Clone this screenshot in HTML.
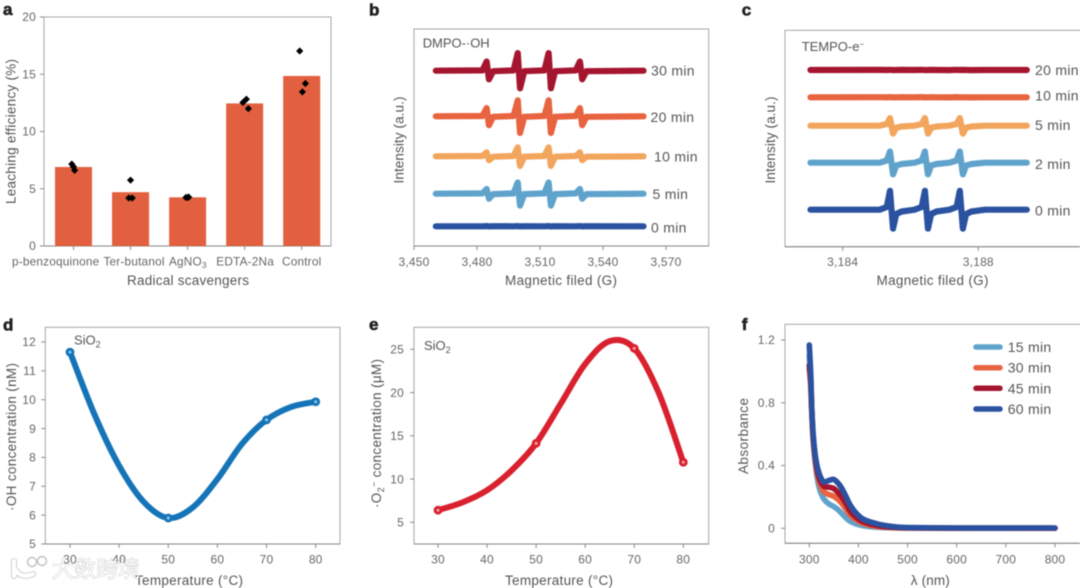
<!DOCTYPE html>
<html lang="en">
<head>
<meta charset="utf-8">
<title>Radical scavenging and EPR figure</title>
<style>
html,body{margin:0;padding:0;background:#fff;width:1080px;height:588px;overflow:hidden}
svg{display:block;filter:blur(0.45px)}
text{font-family:"Liberation Sans","Noto Sans CJK SC",sans-serif}
.tick{font-size:12px;fill:#666;letter-spacing:.2px}
.cat{font-size:11.8px;fill:#666;letter-spacing:.2px}
.title{font-size:13.5px;fill:#555}
.series{font-size:14px;fill:#555;letter-spacing:.3px}
.note{font-size:13px;fill:#555}
.letter{font-size:17px;font-weight:bold;fill:#222;stroke:#222;stroke-width:.6px}
.frame{fill:none;stroke:#a6a6a6;stroke-width:1}
.base{stroke:#858585;stroke-width:1}
.wm{font-family:"Liberation Sans","Noto Sans CJK SC",sans-serif;font-size:22px;fill:#fff;stroke:#b5b5b5;stroke-width:.7px;paint-order:stroke}
</style>
</head>
<body>
<svg id="figure" xmlns="http://www.w3.org/2000/svg" width="1080" height="588" viewBox="0 0 1080 588">
  <text class="letter" x="3" y="15">a</text>
  <text class="letter" x="369" y="15.7">b</text>
  <text class="letter" x="741.7" y="15.7">c</text>
  <text class="letter" x="3" y="330.7">d</text>
  <text class="letter" x="369" y="330">e</text>
  <text class="letter" x="741.7" y="330">f</text>

  <!-- frames -->
  <rect class="frame" x="44" y="17" width="287" height="229"/>
  <rect class="frame" x="414" y="29" width="294.7" height="217"/>
  <rect class="frame" x="785" y="30.3" width="300" height="216.4"/>
  <rect class="frame" x="45.3" y="327.3" width="294.7" height="216.7"/>
  <rect class="frame" x="414" y="327.3" width="294.7" height="216.7"/>
  <rect class="frame" x="785" y="324.3" width="300" height="219"/>
  <line class="base" x1="44" x2="331" y1="246" y2="246"/>
  <line class="base" x1="414" x2="708.7" y1="246" y2="246"/>
  <line class="base" x1="785" x2="1080" y1="246.7" y2="246.7"/>
  <line class="base" x1="45.3" x2="340" y1="544" y2="544"/>
  <line class="base" x1="414" x2="708.7" y1="544" y2="544"/>
  <line class="base" x1="785" x2="1080" y1="543.3" y2="543.3"/>

  <!-- axis titles -->
  <text class="title" x="188" y="285" text-anchor="middle" textLength="122">Radical scavengers</text>
  <text class="title" transform="rotate(-90 15.5 131.5)" x="15.5" y="131.5" text-anchor="middle" textLength="145">Leaching efficiency (%)</text>
  <text class="title" x="561" y="285" text-anchor="middle" textLength="112">Magnetic filed (G)</text>
  <text class="title" transform="rotate(-90 403.5 140)" x="403.5" y="140" text-anchor="middle" textLength="87">Intensity (a.u.)</text>
  <text class="title" x="932.5" y="285" text-anchor="middle" textLength="112">Magnetic filed (G)</text>
  <text class="title" transform="rotate(-90 775.2 140)" x="775.2" y="140" text-anchor="middle" textLength="87">Intensity (a.u.)</text>
  <text class="title" x="189" y="585" text-anchor="middle" textLength="108">Temperature (°C)</text>
  <text class="title" transform="rotate(-90 16 437)" x="16" y="437" text-anchor="middle" textLength="148">·OH concentration (nM)</text>
  <text class="title" x="559" y="585" text-anchor="middle" textLength="108">Temperature (°C)</text>
  <text class="title" transform="rotate(-90 381 433.5)" x="381" y="433.5" text-anchor="middle" textLength="149">·O<tspan dy="3" font-size="9">2</tspan><tspan dy="-7" font-size="9">−</tspan><tspan dy="4"> concentration (μM)</tspan></text>
  <text class="title" x="930.3" y="585" text-anchor="middle" textLength="39">λ (nm)</text>
  <text class="title" transform="rotate(-90 747.8 436)" x="747.8" y="436" text-anchor="middle" textLength="76">Absorbance</text>

  <!-- annotations -->
  <text class="note" x="422.7" y="47.7" textLength="67">DMPO-·OH</text>
  <text class="note" x="801.7" y="51">TEMPO-e<tspan dy="-4" font-size="8">−</tspan></text>
  <text class="note" x="74" y="344.7">SiO<tspan dy="3" font-size="9">2</tspan></text>
  <text class="note" x="424" y="350">SiO<tspan dy="3" font-size="9">2</tspan></text>

  <!-- series labels -->
  <text class="series" x="651" y="75.7">30 min</text>
  <text class="series" x="650.5" y="122">20 min</text>
  <text class="series" x="654" y="161.5">10 min</text>
  <text class="series" x="652.5" y="199">5 min</text>
  <text class="series" x="651" y="232.5">0 min</text>
  <text class="series" x="1035" y="75">20 min</text>
  <text class="series" x="1035" y="100.5">10 min</text>
  <text class="series" x="1035" y="130">5 min</text>
  <text class="series" x="1035" y="169">2 min</text>
  <text class="series" x="1035" y="215.5">0 min</text>

  <g id="marks"></g>

  <!-- legend panel f -->
  <g>
    <line x1="976" x2="1000" y1="347" y2="347" stroke="#5fa3cc" stroke-width="5.5" stroke-linecap="round"/>
    <text class="series" x="1007.7" y="352">15 min</text>
    <line x1="976" x2="1000" y1="367.7" y2="367.7" stroke="#e8633f" stroke-width="5.5" stroke-linecap="round"/>
    <text class="series" x="1007.7" y="372.7">30 min</text>
    <line x1="976" x2="1000" y1="388.3" y2="388.3" stroke="#a5152f" stroke-width="5.5" stroke-linecap="round"/>
    <text class="series" x="1007.7" y="393.3">45 min</text>
    <line x1="976" x2="1000" y1="409" y2="409" stroke="#2a52a0" stroke-width="5.5" stroke-linecap="round"/>
    <text class="series" x="1007.7" y="414">60 min</text>
  </g>

  <!-- watermark -->
  <g>
    <path d="M14 561V576M15 569C18 575 25 578 33 574" fill="none" stroke="#c4c4c4" stroke-width="6" stroke-linecap="round"/>
    <path d="M14 561V576M15 569C18 575 25 578 33 574" fill="none" stroke="#fff" stroke-width="4.4" stroke-linecap="round"/>
    <circle cx="32" cy="562" r="4.5" fill="#fff" stroke="#c0c0c0" stroke-width="1.4"/>
    <circle cx="42" cy="561" r="4.5" fill="#fff" stroke="#c0c0c0" stroke-width="1.4"/>
    <text class="wm" x="52" y="577">大数跨境</text>
  </g>
</svg>

<script>
// ---- panel a data ----
const barCategories = ["p-benzoquinone", "Ter-butanol", "AgNO3", "EDTA-2Na", "Control"];
const barValues = [6.9, 4.7, 4.25, 12.45, 14.85];
const barReplicates = [[7.15, 6.92, 6.6], [5.75, 4.19, 4.19], [4.24, 4.27, 4.24], [12.82, 12.53, 12.0], [17.03, 14.19, 13.46]];
const barJitter = [[-0.03, 0, 0.02], [0, -0.03, 0.03], [-0.03, 0.02, 0], [0.03, -0.03, 0.065], [-0.035, 0.065, 0.012]];
const barTicks = [0, 5, 10, 15, 20];

// ---- panel b data ----
const dmpoField = [3460.4, 3482.6, 3484.6, 3485.7, 3487.7, 3497.4, 3499.4, 3500.5, 3502.5, 3512.1, 3514.1, 3515.2, 3517.2, 3527, 3529, 3530.1, 3532.1, 3559.3];
const dmpo0 = [19.7, 19.7, 19.9, 19.6, 19.8, 19.7, 19.9, 19.6, 19.8, 19.7, 19.9, 19.6, 19.8, 19.7, 19.9, 19.6, 19.8, 19.7];
const dmpo5 = [52.3, 52.6, 57, 47.3, 51.9, 52.6, 63.5, 40.4, 51.9, 52.6, 63.5, 40.4, 51.9, 52.6, 57, 47.3, 51.9, 52.3];
const dmpo10 = [89.7, 90, 93.6, 85.8, 89.3, 90, 98.6, 80.1, 89.3, 90, 98.6, 80.1, 89.3, 90, 93.6, 85.8, 89.3, 89.7];
const dmpo20 = [129.7, 130, 137.9, 120.8, 129.2, 130, 145.6, 113.1, 129.2, 130, 145.6, 113.1, 129.2, 130, 137.9, 120.8, 129.2, 129.7];
const dmpo30 = [175.3, 175.6, 184.5, 166.7, 174.8, 175.6, 192.9, 157.7, 174.8, 175.6, 192.9, 157.7, 174.8, 175.6, 184.5, 166.7, 174.8, 175.3];
const dmpoTicks = [3450, 3480, 3510, 3540, 3570];
const dmpoTickLabels = ["3,450", "3,480", "3,510", "3,540", "3,570"];

// ---- panel c data ----
const tempoField = [3183.05, 3185.09, 3185.3, 3185.395, 3185.485, 3185.58, 3185.74, 3186.12, 3186.33, 3186.425, 3186.515, 3186.61, 3186.77, 3187.15, 3187.36, 3187.455, 3187.545, 3187.64, 3187.8, 3188.2, 3189.43];
const tempo0 = [36.3, 36.3, 39, 55.2, 17.4, 32, 34.5, 36.3, 39, 55.2, 17.4, 32, 34.5, 36.3, 39, 55.2, 17.4, 32, 34.5, 36.3, 36.3];
const tempo2 = [83.3, 83.3, 85.5, 94.5, 71.7, 80.5, 82, 83.3, 85.5, 94.5, 71.7, 80.5, 82, 83.3, 85.5, 94.5, 71.7, 80.5, 82, 83.3, 83.3];
const tempo5 = [120.3, 120.3, 122, 127.9, 112.4, 118.3, 119.5, 120.3, 122, 127.9, 112.4, 118.3, 119.5, 120.3, 122, 127.9, 112.4, 118.3, 119.5, 120.3, 120.3];
const tempo10 = [148.7, 148.8, 148.7, 148.9, 148.6, 148.7, 148.8, 148.7, 148.9, 148.6, 148.7, 148.8, 148.7, 148.6, 148.9, 148.7, 148.8, 148.7, 148.6, 148.7, 148.7];
const tempo20 = [176, 176.1, 176, 176.2, 175.9, 176, 176.1, 176, 176.2, 175.9, 176, 176.1, 176, 175.9, 176.2, 176, 176.1, 176, 175.9, 176, 176];
const tempoTicks = [3184, 3188];
const tempoTickLabels = ["3,184", "3,188"];

// ---- panel d data ----
const ohTemps = [30, 50, 70, 80];
const ohValues = [11.65, 5.9, 9.3, 9.93];
const ohCurveT = [30, 35, 40, 45, 50, 55, 60, 65, 70, 75, 80];
const ohCurveV = [11.65, 9.48, 7.71, 6.46, 5.9, 6.27, 7.25, 8.47, 9.3, 9.75, 9.93];
const ohXTicks = [30, 40, 50, 60, 70, 80];
const ohYTicks = [5, 6, 7, 8, 9, 10, 11, 12];

// ---- panel e data ----
const o2Temps = [30, 50, 70, 80];
const o2Values = [6.4, 14.13, 25.1, 11.94];
const o2CurveT = [30, 35, 40, 45, 50, 55, 60, 65, 70, 75, 80];
const o2CurveV = [6.4, 7.3, 8.7, 11.0, 14.13, 18.7, 23.3, 25.95, 25.1, 19.95, 11.94];
const o2XTicks = [30, 40, 50, 60, 70, 80];
const o2YTicks = [5, 10, 15, 20, 25];

// ---- panel f data ----
const wavelengths = [300, 303, 305, 308, 313, 320, 329, 340, 349, 358, 366, 375, 383, 395, 407, 420, 434, 450, 474, 500, 600, 800];
const abs15 = [1.1, 0.95, 0.75, 0.56, 0.39, 0.26, 0.19, 0.155, 0.14, 0.12, 0.095, 0.065, 0.045, 0.028, 0.018, 0.012, 0.008, 0.005, 0.003, 0.002, 0.001, 0.001];
const abs30 = [1.02, 0.9, 0.74, 0.56, 0.41, 0.3, 0.235, 0.215, 0.205, 0.185, 0.16, 0.12, 0.085, 0.055, 0.035, 0.022, 0.014, 0.008, 0.004, 0.002, 0.001, 0.001];
const abs45 = [1.04, 0.93, 0.76, 0.58, 0.43, 0.32, 0.27, 0.262, 0.255, 0.23, 0.2, 0.155, 0.11, 0.07, 0.045, 0.03, 0.02, 0.012, 0.006, 0.003, 0.001, 0.001];
const abs60 = [1.168, 0.977, 0.765, 0.595, 0.446, 0.35, 0.297, 0.305, 0.312, 0.29, 0.255, 0.2, 0.149, 0.098, 0.064, 0.045, 0.032, 0.02, 0.01, 0.005, 0.002, 0.002];
const absXTicks = [300, 400, 500, 600, 700, 800];
const absYTicks = [0, 0.4, 0.8, 1.2];

const NS = "http://www.w3.org/2000/svg";
const marks = document.getElementById("marks");
function linear(d0, d1, r0, r1) {
  return function (v) { return r0 + (v - d0) * (r1 - r0) / (d1 - d0); };
}
function make(tag, attrs, parent) {
  const el = document.createElementNS(NS, tag);
  for (const k in attrs) el.setAttribute(k, attrs[k]);
  (parent || marks).appendChild(el);
  return el;
}
function polyPath(xs, ys, sx, sy) {
  return xs.map(function (x, i) { return (i ? "L" : "M") + sx(x).toFixed(2) + " " + sy(ys[i]).toFixed(2); }).join("");
}
function smoothPath(xs, ys, sx, sy) {
  const p = xs.map(function (x, i) { return [sx(x), sy(ys[i])]; });
  let d = "M" + p[0][0].toFixed(2) + " " + p[0][1].toFixed(2);
  for (let i = 0; i < p.length - 1; i++) {
    const a = p[Math.max(i - 1, 0)], b = p[i], c = p[i + 1], e = p[Math.min(i + 2, p.length - 1)];
    d += "C" + (b[0] + (c[0] - a[0]) / 6).toFixed(2) + " " + (b[1] + (c[1] - a[1]) / 6).toFixed(2) + " " +
         (c[0] - (e[0] - b[0]) / 6).toFixed(2) + " " + (c[1] - (e[1] - b[1]) / 6).toFixed(2) + " " +
         c[0].toFixed(2) + " " + c[1].toFixed(2);
  }
  return d;
}
function xAxis(panel, values, labels, sx, yAxis, labelY) {
  values.forEach(function (v, i) {
    const t = make("line", { x1: sx(v), x2: sx(v), y1: yAxis, y2: yAxis + 4, stroke: "#8a8a8a", "stroke-width": 1 });
    
    
    const l = make("text", { x: sx(v), y: labelY, "text-anchor": "middle", class: "tick" });
    l.textContent = labels[i];
    
    
  });
}
function yAxis(panel, values, labels, sy, xAxisPos, labelX) {
  values.forEach(function (v, i) {
    const t = make("line", { x1: xAxisPos - 4, x2: xAxisPos, y1: sy(v), y2: sy(v), stroke: "#8a8a8a", "stroke-width": 1 });
    
    
    const l = make("text", { x: labelX, y: sy(v) + 4.2, "text-anchor": "end", class: "tick" });
    l.textContent = labels[i];
    
    
  });
}

// ---- panel a ----
const aX = function (i) { return 44 + 29.5 + i * 57.05; };
const aY = linear(0, 20, 246, 17);
yAxis("panel-a", barTicks, barTicks, aY, 44, 36);
barValues.forEach(function (v, i) {
  const bar = make("rect", { x: aX(i) - 18.5, y: aY(v), width: 37, height: aY(0) - aY(v), fill: "#e2603f" });
  
  
});
barCategories.forEach(function (c, i) {
  const t = make("line", { x1: aX(i), x2: aX(i), y1: 246, y2: 250, stroke: "#8a8a8a", "stroke-width": 1 });
  
  
  const l = make("text", { x: aX(i) + (i === 0 ? -17.8 : i === 1 ? 3.5 : i === 2 ? 0.3 : i === 3 ? 0.5 : 0), y: 265.7, "text-anchor": "middle", class: "cat" });
  if (c === "AgNO3") {
    l.textContent = "AgNO";
    const s = make("tspan", { dy: 2.5, "font-size": 8.5 }, l);
    s.textContent = "3";
  } else {
    l.textContent = c;
  }
  
  
});
barReplicates.forEach(function (vals, i) {
  vals.forEach(function (v, k) {
    const px = aX(i + barJitter[i][k]);
    const py = aY(v);
    const d = make("path", { d: "M" + px + " " + (py - 3.6) + "l3.6 3.6l-3.6 3.6l-3.6 -3.6z", fill: "#000" });
    
    
  });
});

// ---- panel b ----
const bX = linear(3450, 3570, 414, 666);
const bY = linear(0, 217, 246, 29);
xAxis("panel-b", dmpoTicks, dmpoTickLabels, bX, 246, 266);
const dmpoSeries = [[dmpo30, "#a5152f", "30"], [dmpo20, "#e8633f", "20"], [dmpo10, "#f2a55c", "10"], [dmpo5, "#5fa3cc", "5"], [dmpo0, "#2a52a0", "0"]];
dmpoSeries.forEach(function (s) {
  const line = make("path", { d: polyPath(dmpoField, s[0], bX, bY), fill: "none", stroke: s[1], "stroke-width": 6.2, "stroke-linejoin": "round", "stroke-linecap": "round" });
  
  
});

// ---- panel c ----
const cX = linear(3184, 3188, 842.7, 978.3);
const cY = linear(0, 216, 246, 30);
xAxis("panel-c", tempoTicks, tempoTickLabels, cX, 246.7, 266);
const tempoSeries = [[tempo20, "#a5152f", "20"], [tempo10, "#e8633f", "10"], [tempo5, "#f2a55c", "5"], [tempo2, "#5fa3cc", "2"], [tempo0, "#2a52a0", "0"]];
tempoSeries.forEach(function (s) {
  const line = make("path", { d: polyPath(tempoField, s[0], cX, cY), fill: "none", stroke: s[1], "stroke-width": 6.2, "stroke-linejoin": "round", "stroke-linecap": "round" });
  
  
});

// ---- panel d ----
const dX = linear(30, 80, 70, 315.7);
const dY = linear(5, 12, 544, 342);
xAxis("panel-d", ohXTicks, ohXTicks, dX, 544, 563.3);
yAxis("panel-d", ohYTicks, ohYTicks, dY, 45.3, 36);
const ohLine = make("path", { d: smoothPath(ohCurveT, ohCurveV, dX, dY), fill: "none", stroke: "#1574b8", "stroke-width": 6, "stroke-linecap": "round" });


ohTemps.forEach(function (t, i) {
  const p = make("circle", { cx: dX(t), cy: dY(ohValues[i]), r: 4.4, fill: "#1574b8" });
  
  
  const h = make("circle", { cx: dX(t), cy: dY(ohValues[i]), r: 1.5, fill: "#8cc8ec" });
  
  
});

// ---- panel e ----
const eX = linear(30, 80, 438, 683.3);
const eY = linear(5, 25, 522.3, 349.3);
xAxis("panel-e", o2XTicks, o2XTicks, eX, 544, 563.3);
yAxis("panel-e", o2YTicks, o2YTicks, eY, 414, 404);
const o2Line = make("path", { d: smoothPath(o2CurveT, o2CurveV, eX, eY), fill: "none", stroke: "#d9202e", "stroke-width": 6, "stroke-linecap": "round" });


o2Temps.forEach(function (t, i) {
  const p = make("circle", { cx: eX(t), cy: eY(o2Values[i]), r: 4.4, fill: "#d9202e" });
  
  
  const h = make("circle", { cx: eX(t), cy: eY(o2Values[i]), r: 1.5, fill: "#f5a6a6" });
  
  
});

// ---- panel f ----
const fX = linear(300, 800, 809.3, 1055);
const fY = linear(0, 1.2, 528.3, 340);
xAxis("panel-f", absXTicks, absXTicks, fX, 543.3, 563.3);
yAxis("panel-f", absYTicks, absYTicks, fY, 785, 775);
const absSeries = [[abs15, "#5fa3cc", "15"], [abs30, "#e8633f", "30"], [abs45, "#a5152f", "45"], [abs60, "#2a52a0", "60"]];
absSeries.forEach(function (s) {
  const line = make("path", { d: smoothPath(wavelengths, s[0], fX, fY), fill: "none", stroke: s[1], "stroke-width": 5.6, "stroke-linecap": "round", "stroke-linejoin": "round" });
  
  
});
</script>
</body>
</html>
